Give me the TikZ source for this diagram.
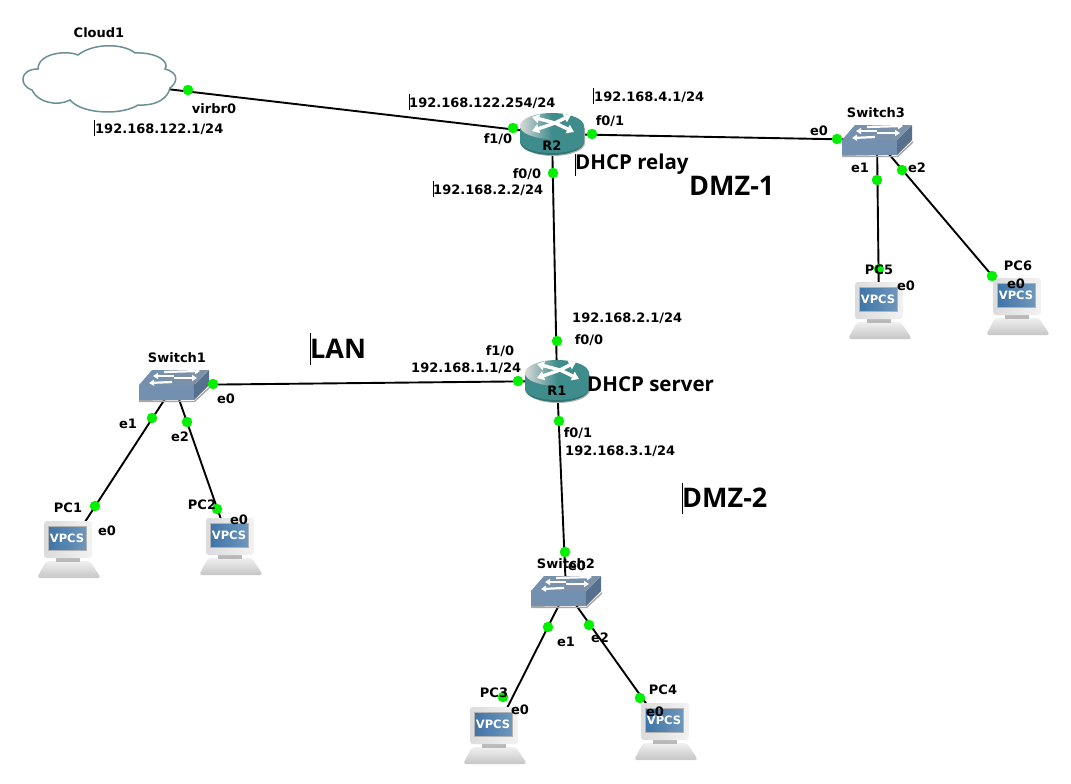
\documentclass[tikz,border=0pt]{standalone}
\usepackage{fontspec}
\setmainfont{DejaVu Sans}
\newfontfamily\notofont{Open Sans}
\usetikzlibrary{arrows.meta}
\definecolor{dotgreen}{HTML}{00F000}
\definecolor{cloudline}{HTML}{6A9096}
\definecolor{routerteal}{HTML}{3F8C8C}
\definecolor{routerdark}{HTML}{2F7575}
\definecolor{switchtop}{HTML}{7F9AB8}
\definecolor{switchfront}{HTML}{7390B0}
\definecolor{switchside}{HTML}{56708E}
\definecolor{screenblue}{HTML}{3F74A6}
\tikzset{
 device/.style={inner sep=0pt,minimum size=0pt},
 link/.style={line width=1.9pt,black},
 port/.style={circle,fill=dotgreen,inner sep=0pt,minimum size=10.5pt},
 tag/.style={inner sep=0pt,yshift=-1pt,font=\bfseries\fontsize{13}{15}\selectfont},
 iplabel/.style={tag,anchor=west},
 zone/.style={inner sep=0pt,anchor=west,font=\notofont\bfseries\fontsize{27}{30}\selectfont},
 note/.style={inner sep=0pt,anchor=west,font=\notofont\bfseries\fontsize{20.5}{24}\selectfont},
 mark bar/.style={line width=0.8pt,black},
 cloudpic/.pic={
  \draw [cloudline,fill=white,line width=1.5pt]
   (-60,-12) .. controls (-60,-28) and (-31,-31) .. (-20,-26)
   .. controls (-5,-38) and (25,-38) .. (37,-28)
   .. controls (59,-29) and (72,-19) .. (67,-12)
   .. controls (82,-8) and (79,2) .. (72,7)
   .. controls (70,17) and (59,25) .. (40,24)
   .. controls (25,34) and (-15,34) .. (-28,19)
   .. controls (-41,26) and (-61,21) .. (-66,9)
   .. controls (-80,4) and (-78,-12) .. (-60,-12) -- cycle;
 },
 routerpic/.pic={
  \fill [gray!60] (-31,-6) -- (33,-6) -- (33,9) arc (0:180:32 and 13) -- cycle;
  \fill [routerdark] (-32,-8) -- (32,-8) -- (32,8) arc (0:180:32 and 13) -- cycle;
  \fill [routerteal] (-32,-8) -- (32,-8) -- (32,7) arc (0:180:32 and 12) -- cycle;
  \shade [left color=gray!30!white,right color=routerteal,middle color=routerteal]
   (0,-8) ellipse (32 and 13);
  \draw [white,line width=3.4pt,-{Triangle[length=7pt,width=9pt]}] (3,-11) -- (-20,-17);
  \draw [white,line width=3.4pt,-{Triangle[length=7pt,width=9pt]}] (3,-11) -- (19,-19);
  \draw [white,line width=3.4pt,-{Triangle[length=7pt,width=9pt]}] (3,-11) -- (-20,-3);
  \draw [white,line width=3.4pt,-{Triangle[length=7pt,width=9pt]}] (3,-11) -- (22,-2);
 },
 switchpic/.pic={
  \fill [gray!70] (-35,15) -- (20,16) -- (36,1) -- (36,3) -- (21,17) -- (-35,17) -- cycle;
  \fill [switchside] (20,0) -- (35,-15) -- (35,0) -- (20,15) -- cycle;
  \fill [switchfront] (-35,0) -- (20,0) -- (20,15) -- (-35,15) -- cycle;
  \shade [left color=switchfront,right color=switchtop!70!gray]
   (-35,0) -- (20,0) -- (35,-15) -- (-22,-15) -- cycle;
  \draw [white,line width=2.2pt,-{Triangle[length=5pt,width=6pt]}] (0,-9) -- (-21,-9);
  \draw [white,line width=2.2pt,-{Triangle[length=5pt,width=6pt]}] (-10,-13) -- (26,-14);
  \draw [white,line width=2.2pt,-{Triangle[length=5pt,width=6pt]}] (-2,-3) -- (-25,-2);
  \draw [white,line width=2.2pt,-{Triangle[length=5pt,width=6pt]}] (0,-7) -- (23,-7);
 },
 pcpic/.pic={
  \shade [top color=gray!12,bottom color=gray!45,rounded corners=3pt]
   (-22,13) -- (22,13) -- (33,30) -- (-31,30) -- cycle;
  \fill [gray!55] (-12,10) rectangle (12,14);
  \shade [left color=gray!28,right color=gray!10,rounded corners=3pt]
   (-24,-27) rectangle (24,10);
  \shade [left color=screenblue,right color=screenblue!75!white,draw=gray!60]
   (-20,-22) rectangle (18,2);
  \node (vp) [inner sep=0pt,text=white,font=\bfseries\fontsize{11.5}{14}\selectfont] at (-1,-10) {VPCS};
 },
}
\begin{document}
\begin{tikzpicture}[x=1pt,y=-1pt]
 \useasboundingbox (0,0) rectangle (1071,784);
 % devices
 \node [device] (Cloud1) at (98,81) {};
 \node [device] (R2) at (552,134) {};
 \node [device] (R1) at (557,381) {};
 \node [device] (Switch1) at (174,385) {};
 \node [device] (Switch2) at (566,591) {};
 \node [device] (Switch3) at (877,140) {};
 \node [device] (PC1) at (68,548) {};
 \node [device] (PC2) at (230,545) {};
 \node [device] (PC3) at (494,734) {};
 \node [device] (PC4) at (665,730) {};
 \node [device] (PC5) at (879,309) {};
 \node [device] (PC6) at (1017,305) {};
 % links
 \draw [link] (Cloud1) -- (R2);
 \draw [link] (R2) -- (Switch3);
 \draw [link] (R2) -- (R1);
 \draw [link] (R1) -- (Switch1);
 \draw [link] (R1) -- (Switch2);
 \draw [link] (Switch1) -- (PC1);
 \draw [link] (Switch1) -- (PC2);
 \draw [link] (Switch2) -- (PC3);
 \draw [link] (Switch2) -- (PC4);
 \draw [link] (Switch3) -- (PC5);
 \draw [link] (Switch3) -- (PC6);
 % icons
 \pic at (Cloud1) {cloudpic};
 \pic at (R2) {routerpic};
 \pic at (R1) {routerpic};
 \pic at (Switch1) {switchpic};
 \pic at (Switch2) {switchpic};
 \pic at (Switch3) {switchpic};
 \pic at (PC1) {pcpic};
 \pic at (PC2) {pcpic};
 \pic at (PC3) {pcpic};
 \pic at (PC4) {pcpic};
 \pic at (PC5) {pcpic};
 \pic at (PC6) {pcpic};
 % ports
 \node [port] (p1) at (188,90) {};
 \node [port] (p2) at (513,128) {};
 \node [port] (p3) at (592,134) {};
 \node [port] (p4) at (553,173) {};
 \node [port] (p5) at (837,139) {};
 \node [port] (p6) at (877,180) {};
 \node [port] (p7) at (902,170) {};
 \node [port] (p8) at (879,269) {};
 \node [port] (p9) at (992,276) {};
 \node [port] (p10) at (557,341) {};
 \node [port] (p11) at (518,381) {};
 \node [port] (p12) at (213,384) {};
 \node [port] (p13) at (152,418) {};
 \node [port] (p14) at (187,422) {};
 \node [port] (p15) at (95,506) {};
 \node [port] (p16) at (217,509) {};
 \node [port] (p17) at (559,421) {};
 \node [port] (p18) at (565,552) {};
 \node [port] (p19) at (548,627) {};
 \node [port] (p20) at (589,625) {};
 \node [port] (p21) at (503,697) {};
 \node [port] (p22) at (640,698) {};
 % labels
 \node [tag] (tCloud1) at (99,32) {Cloud1};
 \node [tag] (tvirbr) at (214,108) {virbr0};
 \node [iplabel] (ip1) at (95,128) {192.168.122.1/24};
 \node [iplabel] (ip2) at (409,102) {192.168.122.254/24};
 \node [iplabel] (ip3) at (594,96) {192.168.4.1/24};
 \node [iplabel] (ip4) at (433,189) {192.168.2.2/24};
 \node [iplabel] (ip5) at (572,317) {192.168.2.1/24};
 \node [iplabel] (ip6) at (411,367) {192.168.1.1/24};
 \node [iplabel] (ip7) at (565,450) {192.168.3.1/24};
 \node [tag] (tR2a) at (498,138) {f1/0};
 \node [tag] (tR2b) at (610,120) {f0/1};
 \node [tag] (tR2c) at (527,173) {f0/0};
 \node [tag] (tR2) at (552,145) {R2};
 \node [tag] (tR1a) at (589,339) {f0/0};
 \node [tag] (tR1b) at (500,350) {f1/0};
 \node [tag] (tR1c) at (578,432) {f0/1};
 \node [tag] (tR1) at (557,390) {R1};
 \node [tag] (tS3) at (876,112) {Switch3};
 \node [tag] (tS3a) at (819,130) {e0};
 \node [tag] (tS3b) at (860,167) {e1};
 \node [tag] (tS3c) at (917,167) {e2};
 \node [tag] (tPC5) at (879,269) {PC5};
 \node [tag] (tPC5a) at (906,285) {e0};
 \node [tag] (tPC6) at (1018,265) {PC6};
 \node [tag] (tPC6a) at (1016,283) {e0};
 \node [tag] (tS1) at (177,357) {Switch1};
 \node [tag] (tS1a) at (226,398) {e0};
 \node [tag] (tS1b) at (128,423) {e1};
 \node [tag] (tS1c) at (180,436) {e2};
 \node [tag] (tPC1) at (68,507) {PC1};
 \node [tag] (tPC1a) at (107,530) {e0};
 \node [tag] (tPC2) at (202,504) {PC2};
 \node [tag] (tPC2a) at (239,519) {e0};
 \node [tag] (tS2) at (566,563) {Switch2};
 \node [tag] (tS2a) at (577,565) {e0};
 \node [tag] (tS2b) at (566,641) {e1};
 \node [tag] (tS2c) at (600,637) {e2};
 \node [tag] (tPC3) at (494,692) {PC3};
 \node [tag] (tPC3a) at (520,709) {e0};
 \node [tag] (tPC4) at (663,689) {PC4};
 \node [tag] (tPC4a) at (655,711) {e0};
 \node [note] (relay) at (575,164) {DHCP relay};
 \node [note] (server) at (587,384) {DHCP server};
 \node [zone] (dmz1) at (689,186) {DMZ-1};
 \node [zone] (dmz2) at (682,498) {DMZ-2};
 \node [zone] (lan) at (310,349) {LAN};
 % text marks
 \draw [mark bar] (94,120) -- (94,136);
 \draw [mark bar] (409,94) -- (409,110);
 \draw [mark bar] (593,88) -- (593,104);
 \draw [mark bar] (433,181) -- (433,197);
 \draw [mark bar] (575,154) -- (575,176);
 \draw [mark bar] (310,333) -- (310,365);
 \draw [mark bar] (682,483) -- (682,514);
\end{tikzpicture}
\end{document}
